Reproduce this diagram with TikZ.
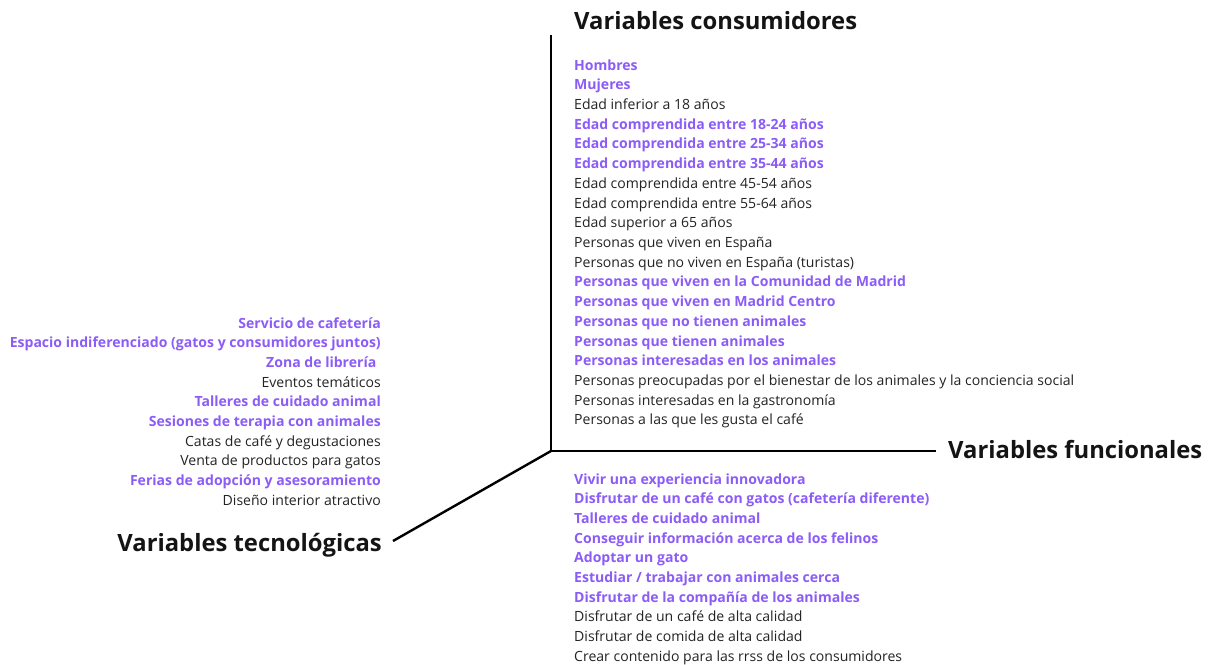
\documentclass[tikz,border=0pt]{standalone}
\usepackage{fontspec}
\setmainfont{Open Sans}
\definecolor{purp}{RGB}{139,92,246}
\definecolor{txt}{RGB}{35,35,35}
\begin{document}
\begin{tikzpicture}[x=1pt,y=-1pt,
  axis/.style={line width=2.4pt,black},
  ttl/.style={inner sep=0pt,font=\fontsize{23.8}{28}\selectfont\bfseries,text=black!92},
  itm/.style={inner sep=0pt,font=\fontsize{14.05}{17}\selectfont,text=txt},
  hi/.style={itm,text=purp,font=\fontsize{14.05}{17}\selectfont\bfseries}]
\useasboundingbox (0,0) rectangle (1210,664);
\coordinate (o) at (551,451);
\coordinate (top) at (551,35);
\coordinate (right) at (936,451);
\coordinate (left) at (393,541);
\draw[axis] (top) -- (o) -- (right);
\draw[axis] (o) -- (left);
\node[ttl,anchor=base west] (tc) at (574,29) {Variables consumidores};
\node[ttl,anchor=base west] (tf) at (948,458) {Variables funcionales};
\node[ttl,anchor=base east] (tt) at (382,551) {Variables tecnológicas};
% consumer variables
\foreach \t/\s [count=\i from 0] in {
 Hombres/hi, Mujeres/hi, Edad inferior a 18 años/itm,
 Edad comprendida entre 18-24 años/hi, Edad comprendida entre 25-34 años/hi,
 Edad comprendida entre 35-44 años/hi, Edad comprendida entre 45-54 años/itm,
 Edad comprendida entre 55-64 años/itm, Edad superior a 65 años/itm,
 Personas que viven en España/itm, Personas que no viven en España (turistas)/itm,
 Personas que viven en la Comunidad de Madrid/hi, Personas que viven en Madrid Centro/hi,
 Personas que no tienen animales/hi, Personas que tienen animales/hi,
 Personas interesadas en los animales/hi,
 Personas preocupadas por el bienestar de los animales y la conciencia social/itm,
 Personas interesadas en la gastronomía/itm, Personas a las que les gusta el café/itm}
 \node[\s,anchor=base west] (c\i) at (574,{70+\i*19.72}) {\t};
% functional variables
\foreach \t/\s [count=\i from 0] in {
 Vivir una experiencia innovadora/hi, Disfrutar de un café con gatos (cafetería diferente)/hi,
 Talleres de cuidado animal/hi, Conseguir información acerca de los felinos/hi,
 Adoptar un gato/hi, {Estudiar / trabajar con animales cerca}/hi,
 Disfrutar de la compañía de los animales/hi, Disfrutar de un café de alta calidad/itm,
 Disfrutar de comida de alta calidad/itm, Crear contenido para las rrss de los consumidores/itm}
 \node[\s,anchor=base west] (f\i) at (574,{484+\i*19.67}) {\t};
% technological variables
\foreach \t/\s [count=\i from 0] in {
 Servicio de cafetería/hi, Espacio indiferenciado (gatos y consumidores juntos)/hi,
 {Zona de librería\kern4.5pt}/hi, Eventos temáticos/itm, Talleres de cuidado animal/hi,
 Sesiones de terapia con animales/hi, Catas de café y degustaciones/itm,
 Venta de productos para gatos/itm, Ferias de adopción y asesoramiento/hi,
 Diseño interior atractivo/itm}
 \node[\s,anchor=base east] (t\i) at (381,{328+\i*19.67}) {\t};
\end{tikzpicture}
\end{document}
